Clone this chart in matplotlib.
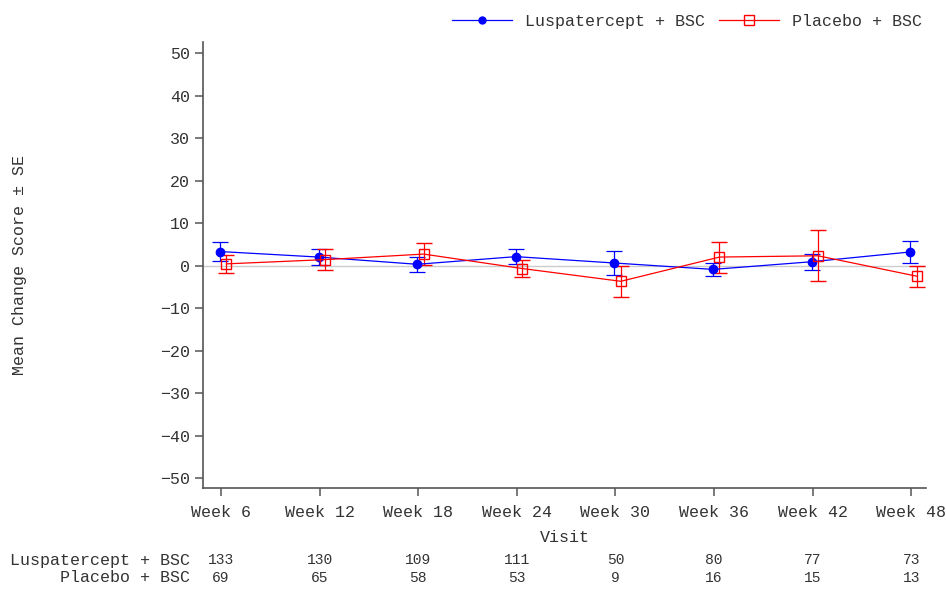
import numpy as np
import matplotlib.pyplot as plt
from matplotlib.lines import Line2D
from matplotlib.transforms import blended_transform_factory

visites = ["Week 6", "Week 12", "Week 18", "Week 24", "Week 30", "Week 36", "Week 42", "Week 48"]

# Luspatercept + BSC
lusp_moy = [3.3, 2.0, 0.3, 2.1, 0.6, -0.9, 0.9, 3.2]
lusp_se = [2.2, 1.8, 1.8, 1.8, 2.9, 1.5, 1.9, 2.65]
lusp_n = [133, 130, 109, 111, 50, 80, 77, 73]

# Placebo + BSC
plac_moy = [0.4, 1.4, 2.7, -0.7, -3.7, 2.0, 2.3, -2.5]
plac_se = [2.2, 2.5, 2.5, 2.05, 3.6, 3.65, 6.0, 2.5]
plac_n = [69, 65, 58, 53, 9, 16, 15, 13]

plt.rcParams['font.family'] = ['Liberation Mono', 'DejaVu Sans Mono']
gris = '#333333'
bleu = '#0000ff'
rouge = '#ff0000'

fig = plt.figure(figsize=(9.46, 5.9), dpi=100)
ax = fig.add_axes([0.2149, 0.1724, 0.7640, 0.7557])

x = np.arange(len(visites))

ax.axhline(0, color='#cccccc', lw=1, zorder=1)

ax.errorbar(x - 0.01, lusp_moy, yerr=lusp_se, color=bleu, lw=0.9,
            marker='o', ms=6, mfc=bleu, mec=bleu, capsize=6,
            elinewidth=0.9, capthick=0.9, zorder=3)
ax.errorbar(x + 0.055, plac_moy, yerr=plac_se, color=rouge, lw=0.9,
            marker='s', ms=7, mfc='none', mec=rouge, mew=1, capsize=6,
            elinewidth=0.9, capthick=0.9, zorder=3)

ax.set_xlim(-0.18, 7.15)
ax.set_ylim(-52.4, 52.5)
ax.set_yticks(np.arange(-50, 51, 10))
ax.set_yticklabels([str(v).replace('-', '\u2212') for v in range(-50, 51, 10)])
ax.set_xticks(x)
ax.set_xticklabels(visites)

for s in ['top', 'right']:
    ax.spines[s].set_visible(False)
for s in ['left', 'bottom']:
    ax.spines[s].set_color('#555555')
    ax.spines[s].set_linewidth(1.2)
ax.tick_params(axis='both', colors='#555555', labelcolor=gris, labelsize=12,
               length=6, width=1.1)
ax.tick_params(axis='x', pad=6)

ax.set_xlabel('Visit', fontsize=12, color=gris, labelpad=7)
ax.set_ylabel('Mean Change Score \u00b1 SE', fontsize=12, color=gris, labelpad=96)

# tableau des effectifs sous le graphique
trans = blended_transform_factory(ax.transData, fig.transFigure)
y1 = 1 - 560 / 590
y2 = 1 - 578 / 590
for i in range(len(visites)):
    ax.text(x[i], y1, str(lusp_n[i]), transform=trans, ha='center',
            va='center', fontsize=10.5, color=gris)
    ax.text(x[i], y2, str(plac_n[i]), transform=trans, ha='center',
            va='center', fontsize=10.5, color=gris)
fig.text(190 / 946, y1, 'Luspatercept + BSC', ha='right', va='center',
         fontsize=12, color=gris)
fig.text(190 / 946, y2, 'Placebo + BSC', ha='right', va='center',
         fontsize=12, color=gris)

poignees = [
    Line2D([], [], color=bleu, lw=0.9, marker='o', ms=5, mfc=bleu, mec=bleu),
    Line2D([], [], color=rouge, lw=0.9, marker='s', ms=6.5, mfc='none', mec=rouge),
]
leg = ax.legend(poignees, ['Luspatercept + BSC', 'Placebo + BSC'],
                loc='lower right', bbox_to_anchor=(1.013, 1.0), ncol=2, frameon=False,
                fontsize=12, handlelength=3.6, columnspacing=0.8, handletextpad=0.8,
                borderaxespad=0.6, borderpad=0.2)
for t in leg.get_texts():
    t.set_color(gris)

fig.savefig('out.png', dpi=100)
